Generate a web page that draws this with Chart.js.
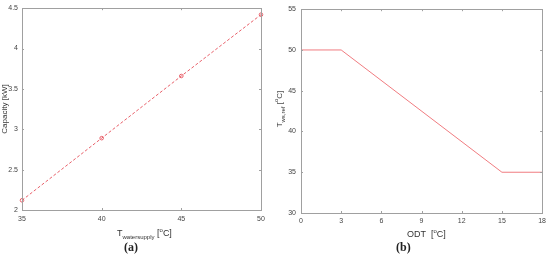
<!DOCTYPE html>
<html>
<head>
<meta charset="utf-8">
<script src="https://cdn.jsdelivr.net/npm/chart.js@4"></script>
<style>
  body { margin: 0; background: #fff; width: 550px; height: 255px; position: relative; overflow: hidden;
         font-family: "Liberation Sans", Arial, sans-serif; color: #333; }
  canvas { position: absolute; top: 0; }
  .lbl { position: absolute; font-size: 9px; color: #333; white-space: nowrap; line-height: 10px; }
  .lbl sub { font-size: 6px; line-height: 0; }
  .lbl sup { font-size: 6px; line-height: 0; }
  .cap { position: absolute; font-family: "Liberation Serif", "Times New Roman", serif; font-weight: bold; font-size: 12px; color: #222; }
  .rot { width: 80px; height: 10px; text-align: center; font-size: 8px; transform: rotate(-90deg); transform-origin: 40px 5px; }
</style>
</head>
<body>
<canvas id="chartA" width="275" height="240" style="left:0"></canvas>
<canvas id="chartB" width="275" height="240" style="left:275px"></canvas>

<div class="lbl" style="left:117px; top:228px;">T<sub>watersupply</sub> [<sup>o</sup>C]</div>
<div class="lbl rot" style="left:-35px; top:104px;">Capacity [kW]</div>
<div class="cap" style="left:124px; top:240px;">(a)</div>

<div class="lbl" style="left:407px; top:229px;">ODT&nbsp; [<sup>o</sup>C]</div>
<div class="lbl rot" style="left:240px; top:104px;">T<sub>ws,ref</sub> [<sup>o</sup>C]</div>
<div class="cap" style="left:396px; top:240px;">(b)</div>

<script>
// (a) capacity vs water supply temperature
const supplyTemps = [35, 40, 45, 50];
const capacityKW = [2.12, 2.89, 3.66, 4.42];
const aTicksX = [35, 40, 45, 50];
const aTicksY = [2, 2.5, 3, 3.5, 4, 4.5];

// (b) reference water temperature vs outdoor temperature
const odt = [0, 3, 15, 18];
const twsRef = [50, 50, 35, 35];
const bTicksX = [0, 3, 6, 9, 12, 15, 18];
const bTicksY = [30, 35, 40, 45, 50, 55];

const axisGray = '#a0a0a0';
const tickColor = '#444';

// matlab-ish box with inward ticks on all four sides
const boxPlugin = {
    id: 'box',
    afterDraw(chart) {
        const ctx = chart.ctx;
        const a = chart.chartArea;
        const xs = chart.scales.x, ys = chart.scales.y;
        ctx.save();
        ctx.strokeStyle = axisGray;
        ctx.lineWidth = 1;
        ctx.strokeRect(Math.round(a.left) + 0.5, Math.round(a.top) + 0.5,
            Math.round(a.right - a.left), Math.round(a.bottom - a.top));
        const len = 2;
        ctx.beginPath();
        xs.ticks.forEach(t => {
            const px = Math.round(xs.getPixelForValue(t.value)) + 0.5;
            ctx.moveTo(px, a.bottom); ctx.lineTo(px, a.bottom - len);
            ctx.moveTo(px, a.top); ctx.lineTo(px, a.top + len);
        });
        ys.ticks.forEach(t => {
            const py = Math.round(ys.getPixelForValue(t.value)) + 0.5;
            ctx.moveTo(a.left, py); ctx.lineTo(a.left + len, py);
            ctx.moveTo(a.right, py); ctx.lineTo(a.right - len, py);
        });
        ctx.stroke();
        ctx.restore();
    }
};

function makeOptions(xMin, xMax, xTicks, yMin, yMax, yTicks, yWidth, xPad, yPad, pad) {
    return {
        responsive: false,
        animation: false,
        layout: { padding: pad },
        plugins: { legend: { display: false }, tooltip: { enabled: false } },
        scales: {
            x: {
                type: 'linear', min: xMin, max: xMax,
                grid: { display: false, drawTicks: false },
                border: { display: false },
                afterBuildTicks: s => { s.ticks = xTicks.map(v => ({ value: v })); },
                afterFit: s => { s.height = 16; },
                ticks: { color: tickColor, font: { size: 7, family: 'Liberation Sans' }, padding: xPad, maxRotation: 0,
                         callback: v => String(v) }
            },
            y: {
                type: 'linear', min: yMin, max: yMax,
                grid: { display: false, drawTicks: false },
                border: { display: false },
                afterBuildTicks: s => { s.ticks = yTicks.map(v => ({ value: v })); },
                afterFit: s => { s.width = yWidth; },
                ticks: { color: tickColor, font: { size: 7, family: 'Liberation Sans' }, padding: yPad,
                         callback: v => String(v) }
            }
        }
    };
}

new Chart(document.getElementById('chartA'), {
    type: 'scatter',
    data: {
        datasets: [{
            data: supplyTemps.map((x, i) => ({ x: x, y: capacityKW[i] })),
            showLine: true,
            clip: false,
            borderColor: '#e8606a',
            borderWidth: 1,
            borderDash: [3, 2],
            pointRadius: 1.8,
            pointBackgroundColor: 'rgba(0,0,0,0)',
            pointBorderColor: '#e8606a',
            pointBorderWidth: 1
        }]
    },
    options: makeOptions(35, 50, aTicksX, 2, 4.5, aTicksY, 22, 5, 4, { left: 0, right: 14, top: 6, bottom: 14 }),
    plugins: [boxPlugin]
});

new Chart(document.getElementById('chartB'), {
    type: 'scatter',
    data: {
        datasets: [{
            data: odt.map((x, i) => ({ x: x, y: twsRef[i] })),
            showLine: true,
            borderColor: '#f07c80',
            borderWidth: 1,
            pointRadius: 0
        }]
    },
    options: makeOptions(0, 18, bTicksX, 30, 55, bTicksY, 26, 4, 5, { left: 0, right: 6, top: 7, bottom: 11 }),
    plugins: [boxPlugin]
});
</script>
</body>
</html>
